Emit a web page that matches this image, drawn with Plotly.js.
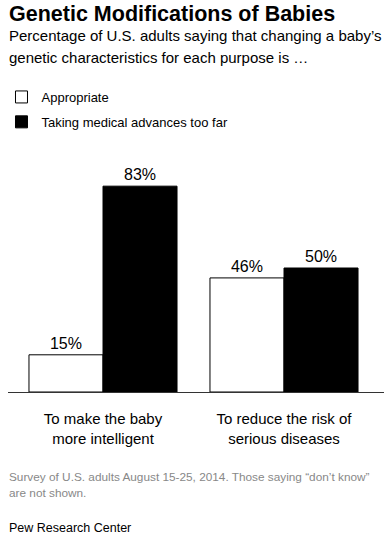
<!DOCTYPE html>
<html>
<head>
<meta charset="utf-8">
<script src="https://cdn.plot.ly/plotly-3.0.1.min.js"></script>
<style>
html,body{margin:0;padding:0;background:#fff;}
#chart{width:392px;height:552px;}
</style>
</head>
<body>
<div id="chart"></div>
<script>
var categories = ["To make the baby<br>more intelligent", "To reduce the risk of<br>serious diseases"];
var seriesNames = ["Appropriate", "Taking medical advances too far"];
var appropriate = [15, 46];
var tooFar = [83, 50];

var titleText = "Genetic Modifications of Babies";
var subtitleLines = ["Percentage of U.S. adults saying that changing a baby\u2019s", "genetic characteristics for each purpose is \u2026"];
var noteLines = ["Survey of U.S. adults August 15-25, 2014. Those saying \u201cdon\u2019t know\u201d", "are not shown."];
var sourceText = "Pew Research Center";

var FONT = "Liberation Sans, Arial, sans-serif";

var traces = [
  {
    type: "bar", name: seriesNames[0], x: categories, y: appropriate,
    legendgroup: "a",
    marker: {color: "#ffffff", line: {color: "#000000", width: 1}},
    texttemplate: "%{y}%", textposition: "outside", cliponaxis: false,
    textfont: {family: FONT, size: 16, color: "#000"},
    hoverinfo: "skip"
  },
  {
    type: "bar", name: seriesNames[1], x: categories, y: tooFar,
    legendgroup: "b",
    marker: {color: "#000000", line: {color: "#000000", width: 1}},
    texttemplate: "%{y}%", textposition: "outside", cliponaxis: false,
    textfont: {family: FONT, size: 16, color: "#000"},
    hoverinfo: "skip"
  }
];

function py(px){ return (392 - px) / 248; }

var annotations = [
  {text: "<b>" + titleText + "</b>", x: 0, y: py(14.3), font: {family: FONT, size: 21.5, color: "#000"}},
  {text: subtitleLines[0], x: 0, y: py(35.8), font: {family: FONT, size: 15, color: "#000"}},
  {text: subtitleLines[1], x: 0, y: py(57.8), font: {family: FONT, size: 15, color: "#000"}},
  {text: noteLines[0], x: 0, y: py(476.5), font: {family: FONT, size: 11.8, color: "#888888"}},
  {text: noteLines[1], x: 0, y: py(493), font: {family: FONT, size: 11.8, color: "#888888"}},
  {text: sourceText, x: 0, y: py(528), font: {family: FONT, size: 12.5, color: "#000"}}
].map(function(a){
  a.xref = "paper"; a.yref = "paper"; a.xanchor = "left"; a.yanchor = "middle";
  a.showarrow = false; a.align = "left"; a.xshift = -1;
  return a;
});

var layout = {
  width: 392, height: 552,
  margin: {l: 8, r: 8, t: 144, b: 160, pad: 0, autoexpand: false},
  paper_bgcolor: "#fff", plot_bgcolor: "#fff",
  font: {family: FONT, color: "#000"},
  barmode: "group", bargap: 0.182, bargroupgap: 0,
  showlegend: true,
  legend: {
    x: -0.0173, y: py(82), xanchor: "left", yanchor: "top",
    traceorder: "grouped", tracegroupgap: 5,
    font: {family: FONT, size: 13, color: "#000"},
    bgcolor: "rgba(0,0,0,0)"
  },
  xaxis: {
    type: "category", range: [-0.5249, 1.5525],
    showline: true, linecolor: "#333", linewidth: 1,
    ticks: "", showgrid: false, zeroline: false,
    ticklabelstandoff: 13,
    tickfont: {family: FONT, size: 15, color: "#000"},
    fixedrange: true
  },
  yaxis: {
    range: [0, 100], visible: false, showgrid: false, zeroline: false, fixedrange: true
  },
  annotations: annotations
};

Plotly.newPlot("chart", traces, layout, {displayModeBar: false, staticPlot: true});
</script>
</body>
</html>
